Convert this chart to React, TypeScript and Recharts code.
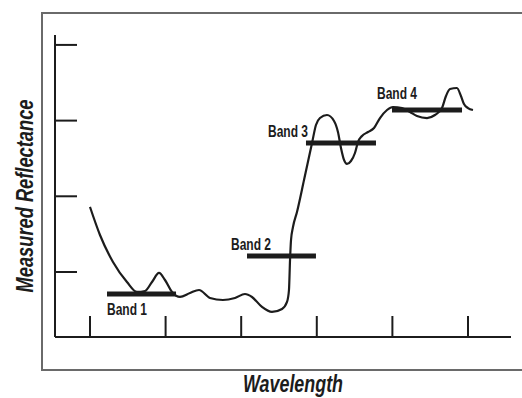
import { LineChart, Line, XAxis, YAxis, ReferenceLine, Label } from "recharts";

// spectral curve, arbitrary units (x ticks at 1..6, y ticks at 1..4)
const wavelength = [
  1.0, 1.132, 1.304, 1.489, 1.622, 1.728, 1.82, 1.913, 1.992, 2.085, 2.19, 2.323, 2.442, 2.587,
  2.759, 2.918, 3.05, 3.143, 3.275, 3.407, 3.54, 3.606, 3.632, 3.646, 3.659, 3.685, 3.738, 3.831,
  3.937, 3.989, 4.042, 4.135, 4.228, 4.28, 4.32, 4.36, 4.399, 4.452, 4.505, 4.545, 4.598, 4.677,
  4.757, 4.836, 4.929, 5.008, 5.127, 5.233, 5.325, 5.458, 5.563, 5.656, 5.709, 5.762, 5.854, 5.907,
  5.947, 6.0, 6.066,
];
const reflectance = [
  1.859, 1.489, 1.132, 0.868, 0.736, 0.749, 0.868, 0.987, 0.894, 0.736, 0.67, 0.723, 0.762, 0.657,
  0.63, 0.657, 0.709, 0.67, 0.538, 0.472, 0.511, 0.604, 0.762, 1.159, 1.423, 1.594, 1.793, 2.215,
  2.704, 2.942, 3.034, 3.074, 2.995, 2.849, 2.638, 2.48, 2.427, 2.466, 2.572, 2.717, 2.797, 2.849,
  2.902, 3.034, 3.14, 3.18, 3.166, 3.114, 3.061, 3.034, 3.074, 3.166, 3.325, 3.417, 3.431, 3.325,
  3.219, 3.166, 3.14,
];

const bandNames = ["Band 1", "Band 2", "Band 3", "Band 4"];
const bandStart = [1.225, 3.077, 3.857, 4.995];
const bandEnd = [2.138, 3.989, 4.783, 5.921];
const bandLevel = [0.709, 1.211, 2.704, 3.14];

const xTicks = [1, 2, 3, 4, 5, 6];
const yTicks = [1, 2, 3, 4];

const curve = wavelength.map((x, i) => ({ x, y: reflectance[i] }));

// where each band name sits relative to the left end of its bar (px)
const labelShift = [
  [0, 21],
  [-16, -6],
  [-38, -6],
  [-15, -11],
];

// Arial-like face squeezed to a narrow width with textLength
const face = "'Liberation Sans', Arial, sans-serif";
const ink = "#1c1c1c";

const noTick = () => <g />;

export default function App() {
  return (
    <div
      style={{
        position: "absolute",
        left: 0,
        top: 0,
        width: 522,
        height: 398,
        overflow: "hidden",
        background: "#fff",
      }}
    >
      <div
        style={{
          position: "absolute",
          left: 41,
          top: 12,
          width: 600,
          height: 355,
          borderTop: "2px solid #6a6a6a",
          borderLeft: "2px solid #6a6a6a",
          borderBottom: "2px solid #6a6a6a",
        }}
      />
      <div style={{ position: "absolute", left: 0, top: 0 }}>
        <LineChart
          width={522}
          height={398}
          data={curve}
          margin={{ top: 35, left: 55, right: 11, bottom: 61 }}
        >
          <XAxis
            type="number"
            dataKey="x"
            domain={[0.537, 6.569]}
            ticks={xTicks}
            allowDataOverflow
            mirror
            height={1}
            tickSize={21}
            tick={noTick}
            axisLine={{ stroke: ink, strokeWidth: 2 }}
            tickLine={{ stroke: ink, strokeWidth: 2 }}
          >
            <Label
              content={({ viewBox }: any) => (
                <text
                  x={viewBox.x + viewBox.width / 2 + 10}
                  y={viewBox.y + 56}
                  textAnchor="middle"
                  fontFamily={face}
                  fontWeight="bold"
                  fontStyle="italic"
                  fontSize={23}
                  textLength={100}
                  lengthAdjust="spacingAndGlyphs"
                  fill={ink}
                >
                  Wavelength
                </text>
              )}
            />
          </XAxis>
          <YAxis
            type="number"
            domain={[0.141, 4.131]}
            ticks={yTicks}
            allowDataOverflow
            mirror
            width={1}
            tickSize={22}
            tick={noTick}
            axisLine={{ stroke: ink, strokeWidth: 2 }}
            tickLine={{ stroke: ink, strokeWidth: 2 }}
          >
            <Label
              content={({ viewBox }: any) => {
                const cx = viewBox.x - 22;
                const cy = viewBox.y + viewBox.height / 2 + 10;
                return (
                  <text
                    x={cx}
                    y={cy}
                    transform={`rotate(-90 ${cx} ${cy})`}
                    textAnchor="middle"
                    fontFamily={face}
                    fontWeight="bold"
                    fontStyle="italic"
                    fontSize={23}
                    textLength={193}
                    lengthAdjust="spacingAndGlyphs"
                    fill={ink}
                  >
                    Measured Reflectance
                  </text>
                );
              }}
            />
          </YAxis>
          {bandNames.map((name, i) => (
            <ReferenceLine
              key={name}
              segment={[
                { x: bandStart[i], y: bandLevel[i] },
                { x: bandEnd[i], y: bandLevel[i] },
              ]}
              stroke={ink}
              strokeWidth={5}
              ifOverflow="visible"
              label={({ viewBox }: any) => (
                <text
                  x={viewBox.x + labelShift[i][0]}
                  y={viewBox.y + labelShift[i][1]}
                  fontFamily={face}
                  fontWeight="bold"
                  fontSize={16}
                  textLength={40}
                  lengthAdjust="spacingAndGlyphs"
                  fill={ink}
                >
                  {name}
                </text>
              )}
            />
          ))}
          <Line
            type="monotone"
            dataKey="y"
            stroke={ink}
            strokeWidth={2.2}
            dot={false}
            isAnimationActive={false}
          />
        </LineChart>
      </div>
    </div>
  );
}
